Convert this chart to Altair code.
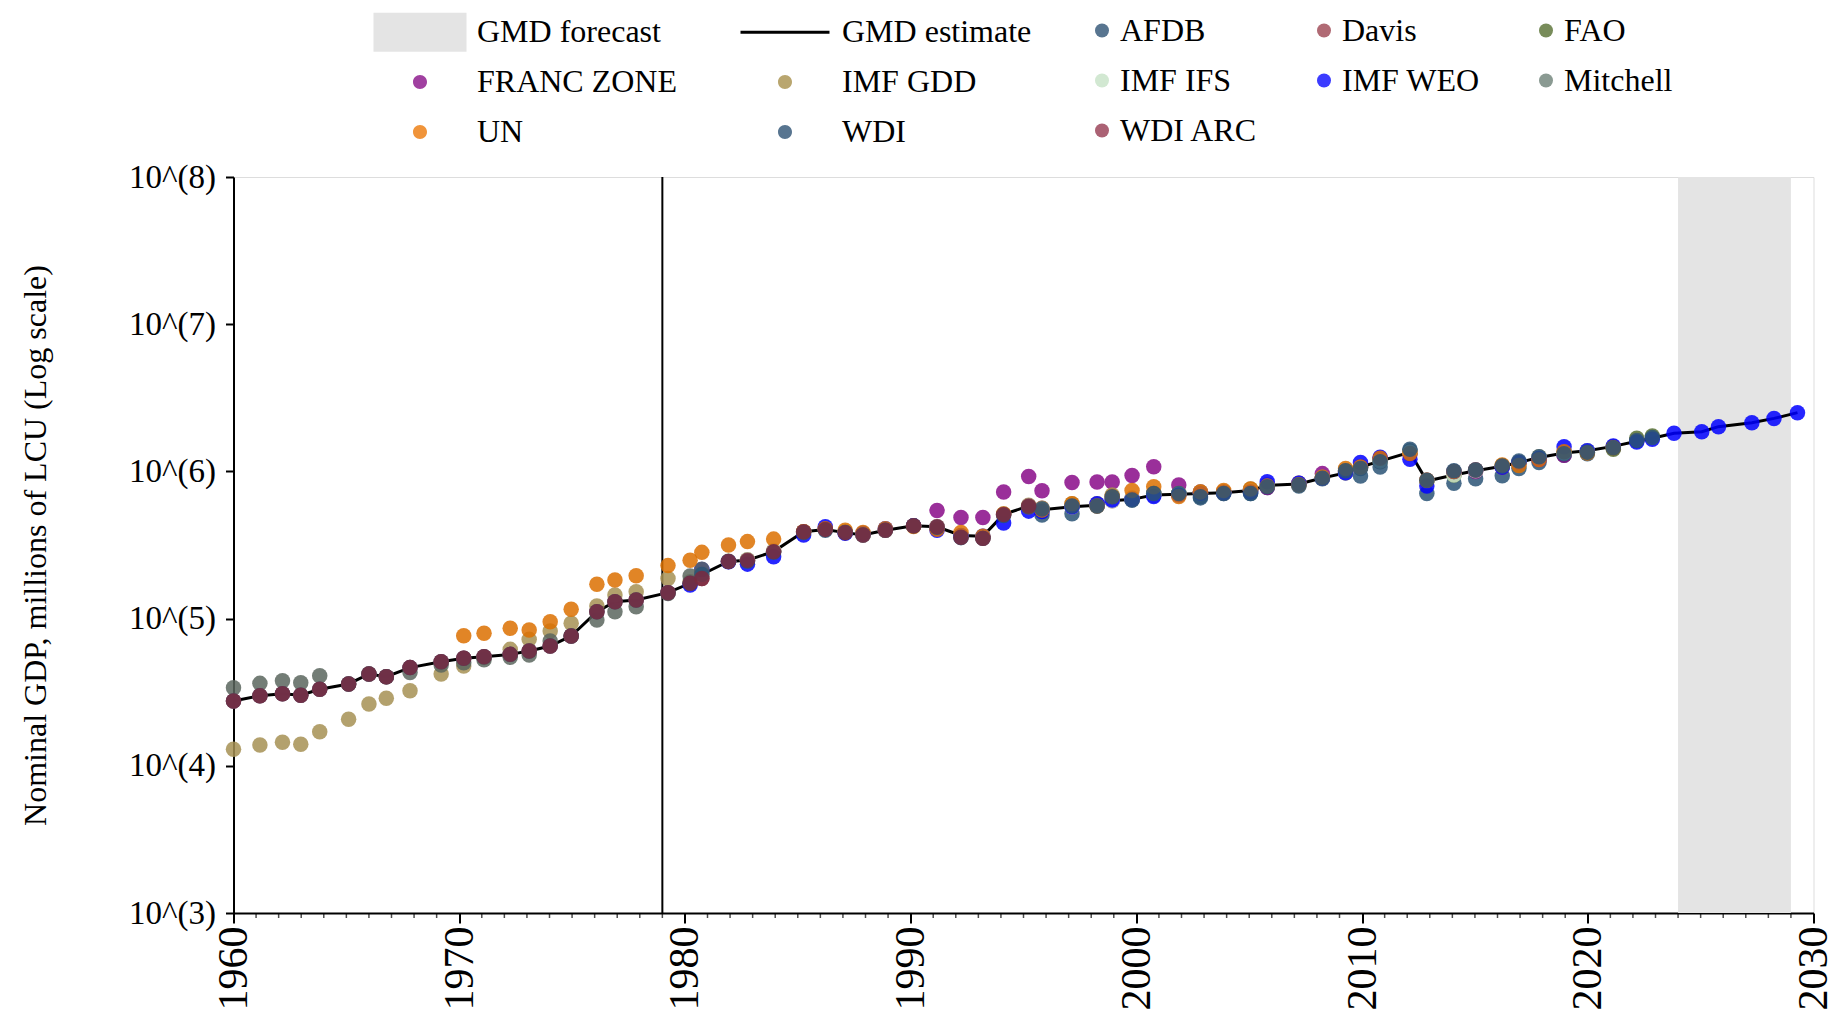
import math
import altair as alt
import pandas as pd

# ---------------- data (log10 of nominal GDP, millions of LCU) ----------------
years = list(range(1960, 2030))
# horizontal position of each year's markers
year_pos = [
    1960.00, 1961.17, 1962.17, 1962.98, 1963.82, 1965.10, 1966.00, 1966.77, 1967.82, 1969.20,
    1970.20, 1971.10, 1972.26, 1973.10, 1974.03, 1974.96, 1976.10, 1976.90, 1977.84, 1979.25,
    1980.23, 1980.75, 1981.93, 1982.77, 1983.93, 1985.26, 1986.22, 1987.10, 1987.89, 1988.88,
    1990.13, 1991.17, 1992.23, 1993.20, 1994.12, 1995.23, 1995.82, 1997.15, 1998.26, 1998.93,
    1999.81, 2000.77, 2001.88, 2002.84, 2003.87, 2005.06, 2005.80, 2007.20, 2008.24, 2009.27,
    2009.93, 2010.80, 2012.12, 2012.87, 2014.07, 2015.03, 2016.21, 2016.95, 2017.84, 2018.95,
    2019.98, 2021.13, 2022.17, 2022.86, 2023.82, 2025.05, 2025.79, 2027.27, 2028.25, 2029.29,
]
gmd_estimate = [
    4.44, 4.476, 4.49, 4.479, 4.52, 4.556, 4.624, 4.605, 4.667, 4.707,
    4.73, 4.741, 4.757, 4.78, 4.814, 4.882, 5.047, 5.115, 5.126, 5.176,
    5.24, 5.30, 5.388, 5.397, 5.455, 5.59, 5.606, 5.584, 5.568, 5.60,
    5.631, 5.624, 5.565, 5.56, 5.708, 5.765, 5.74, 5.76, 5.77, 5.80,
    5.81, 5.84, 5.845, 5.85, 5.855, 5.87, 5.905, 5.915, 5.955, 5.99,
    6.03, 6.07, 6.13, 5.935, 5.975, 6.005, 6.035, 6.06, 6.095, 6.125,
    6.14, 6.17, 6.205, 6.225, 6.259, 6.27, 6.304, 6.33, 6.36, 6.399,
]

afdb_start = 1995
afdb = [5.76, 5.704, 5.712, 5.765, 5.82, 5.806, 5.85, 5.85, 5.82, 5.85,
        5.85, 5.89, 5.90, 5.95, 6.005, 5.969, 6.03, 6.14, 5.85, 5.92,
        5.95, 5.97, 6.02, 6.06, 6.11, 6.12, 6.16, 6.21]

davis_start = 1960
davis = [4.44, 4.476, 4.49, 4.479, 4.52, 4.556, 4.624, 4.605, 4.667, 4.707,
         4.73, 4.741, 4.757, 4.78, 4.814, 4.882, 5.047, 5.115, 5.126, 5.176,
         5.24, 5.273, 5.388, 5.397, 5.455, 5.59, 5.606, 5.584, 5.568, 5.60,
         5.631, 5.624, 5.552, 5.545, 5.708, 5.765, 5.75, 5.76, 5.77, 5.80,
         5.81, 5.84, 5.845, 5.85, 5.855, 5.87, 5.905, 5.915, 5.955, 5.99,
         6.03, 6.07, 6.125]

fao_start = 2000
fao = [5.81, 5.84, 5.845, 5.85, 5.855, 5.87, 5.905, 5.915, 5.955, 5.99,
       6.03, 6.07, 6.13, 5.935, 5.975, 6.005, 6.035, 6.06, 6.095, 6.125,
       6.13, 6.15, 6.225, 6.24]

franc_zone_start = 1991
franc_zone = [5.735, 5.687, 5.687, 5.86, 5.965, 5.868, 5.925, 5.928, 5.928, 5.972,
              6.032, 5.908, 5.86, 5.86, 5.87, 5.89, 5.92, 5.985, 6.0, 6.03,
              6.09, 6.12, 5.94, 5.985, 6.0, 6.03, 6.06, 6.08, 6.11]

imf_gdd_start = 1960
imf_gdd = [4.112, 4.141, 4.16, 4.146, 4.232, 4.316, 4.42, 4.459, 4.51, 4.624,
           4.678, 4.735, 4.791, 4.859, 4.916, 4.968, 5.086, 5.16, 5.183, 5.273,
           5.25, 5.31, 5.39, 5.40, 5.46, 5.59, 5.61, 5.59, 5.57, 5.60,
           5.63, 5.62, 5.56, 5.55, 5.71, 5.77, 5.75, 5.78, 5.78, 5.84,
           5.82, 5.85, 5.85, 5.86, 5.86, 5.88, 5.91, 5.92, 5.96, 6.0,
           6.03, 6.08, 6.13, 5.94, 5.98, 6.01, 6.04, 6.06, 6.10, 6.13,
           6.14, 6.17, 6.21]

imf_ifs_start = 1980
imf_ifs = [5.24, 5.30, 5.39, 5.40, 5.46, 5.59, 5.61, 5.585, 5.57, 5.60,
           5.63, 5.625, 5.565, 5.56, 5.71, 5.765, 5.74, 5.76, 5.77, 5.80,
           5.81, 5.84, 5.845, 5.85, 5.855, 5.87, 5.905, 5.915, 5.955, 5.99,
           6.03, 6.07, 6.13, 5.935, 5.975, 6.005, 6.035, 6.06, 6.095, 6.125,
           6.14]

imf_weo_start = 1980
imf_weo = [5.228, 5.334, 5.386, 5.37, 5.42, 5.568, 5.624, 5.58, 5.58, 5.61,
           5.63, 5.60, 5.565, 5.56, 5.65, 5.73, 5.727, 5.76, 5.78, 5.806,
           5.81, 5.83, 5.84, 5.85, 5.855, 5.86, 5.93, 5.92, 5.955, 5.99,
           6.06, 6.096, 6.082, 5.90, 6.0, 6.01, 6.03, 6.06, 6.09, 6.168,
           6.14, 6.173, 6.2, 6.218, 6.259, 6.27, 6.304, 6.33, 6.36, 6.399]

mitchell_start = 1960
mitchell = [4.53, 4.56, 4.578, 4.564, 4.612, 4.556, 4.624, 4.605, 4.633, 4.685,
            4.70, 4.72, 4.737, 4.753, 4.848, 4.882, 4.99, 5.047, 5.08, 5.17,
            5.29, 5.336]

un_start = 1970
un = [4.884, 4.90, 4.934, 4.922, 4.979, 5.063, 5.233, 5.262, 5.291, 5.36,
      5.397, 5.45, 5.50, 5.523, 5.54, 5.59, 5.61, 5.60, 5.585, 5.61,
      5.625, 5.607, 5.585, 5.56, 5.71, 5.76, 5.738, 5.78, 5.765, 5.83,
      5.87, 5.896, 5.83, 5.86, 5.87, 5.88, 5.90, 5.91, 5.96, 6.02,
      6.03, 6.09, 6.122, 5.94, 6.0, 6.01, 6.044, 6.04, 6.08, 6.134,
      6.125, 6.16]

wdi_start = 1960
wdi = [4.44, 4.476, 4.49, 4.479, 4.52, 4.556, 4.624, 4.605, 4.667, 4.707,
       4.73, 4.741, 4.757, 4.78, 4.814, 4.882, 5.047, 5.115, 5.126, 5.176,
       5.24, 5.30, 5.388, 5.39, 5.45, 5.585, 5.60, 5.585, 5.568, 5.60,
       5.63, 5.62, 5.55, 5.545, 5.70, 5.76, 5.745, 5.765, 5.765, 5.828,
       5.806, 5.85, 5.85, 5.828, 5.85, 5.85, 5.896, 5.907, 5.953, 6.005,
       6.02, 6.066, 6.15, 5.94, 6.005, 6.01, 6.037, 6.07, 6.10, 6.12,
       6.13, 6.161, 6.21, 6.23]

wdi_arc_start = 1960
wdi_arc = [4.44, 4.476, 4.49, 4.479, 4.52, 4.556, 4.624, 4.605, 4.667, 4.707,
           4.73, 4.741, 4.757, 4.78, 4.814, 4.882, 5.047, 5.115, 5.126, 5.176,
           5.24, 5.273, 5.388, 5.397, 5.455, 5.59, 5.606, 5.584, 5.568, 5.60,
           5.631, 5.624, 5.552, 5.545, 5.708, 5.765]

forecast_span = [2024, 2029]
event_years = [1979]
x_ticks = [1960, 1970, 1980, 1990, 2000, 2010, 2020, 2030]
minor_tick_years = [y for y in range(1961, 2030) if y % 10 != 0]
y_ticks = [3, 4, 5, 6, 7, 8]

source_names = ["AFDB", "Davis", "FAO", "FRANC ZONE", "IMF GDD", "IMF IFS",
                "IMF WEO", "Mitchell", "UN", "WDI", "WDI ARC"]
source_colors = ["#2a5476", "#a03a50", "#566f31", "#880b88", "#a69054", "#c6e3c6",
                 "#0000ff", "#5a665e", "#dc7000", "#2a5476", "#7a2a40"]

legend_a_names = ["GMD forecast", "GMD estimate", "FRANC ZONE", "IMF GDD", "UN", "WDI"]
legend_a_colors = ["#e4e4e4", "#000000", "#a040a0", "#b9a66f", "#f0943a", "#587590"]
legend_b_names = ["AFDB", "Davis", "FAO", "IMF IFS", "IMF WEO", "Mitchell", "WDI ARC"]
legend_b_colors = ["#587590", "#b06a74", "#788c5a", "#d2e8d2", "#3c3cff", "#8a9a92", "#ab6274"]

# ---------------- tables ----------------
series_list = [
    ("AFDB", afdb_start, afdb), ("Davis", davis_start, davis), ("FAO", fao_start, fao),
    ("FRANC ZONE", franc_zone_start, franc_zone), ("IMF GDD", imf_gdd_start, imf_gdd),
    ("IMF IFS", imf_ifs_start, imf_ifs), ("IMF WEO", imf_weo_start, imf_weo),
    ("Mitchell", mitchell_start, mitchell), ("UN", un_start, un),
    ("WDI", wdi_start, wdi), ("WDI ARC", wdi_arc_start, wdi_arc),
]
rows = []
for name, start, vals in series_list:
    for i, v in enumerate(vals):
        yr = start + i
        rows.append({"source": name, "year": yr, "pos": year_pos[yr - 1960], "gdp": v})
points_df = pd.DataFrame(rows)
line_df = pd.DataFrame({"year": years, "pos": year_pos, "gdp": gmd_estimate})
forecast_df = pd.DataFrame({"start": [forecast_span[0]], "end": [forecast_span[1]]})
event_df = pd.DataFrame({"year": event_years})
minor_df = pd.DataFrame({"year": minor_tick_years})

# ---------------- styling ----------------
FONT = "Liberation Serif"
W, H = 1580, 736

x_scale = alt.Scale(domain=[1960, 2030], nice=False, zero=False)
y_scale = alt.Scale(domain=[3, 8], nice=False, zero=False)
x_axis = alt.Axis(values=x_ticks, labelAngle=270, labelFont=FONT, labelFontSize=42,
                  labelColor="black", labelPadding=3, tickSize=10, tickWidth=2,
                  tickColor="black", domainColor="black", domainWidth=2, grid=False,
                  title=None, labelFlush=False, labelOverlap=False, format="d")
y_axis = alt.Axis(values=y_ticks, labelExpr="'10^(' + datum.value + ')'", labelFont=FONT,
                  labelFontSize=33, labelColor="black", labelPadding=10, tickSize=8,
                  tickWidth=2, tickColor="black", domainColor="black", domainWidth=2,
                  grid=False, title="Nominal GDP, millions of LCU (Log scale)",
                  titleFont=FONT, titleFontSize=32, titleFontWeight="normal",
                  titleColor="black", titleX=-188, titleY=368, titleBaseline="alphabetic",
                  titleAngle=270)

X = lambda f: alt.X(f, scale=x_scale, axis=x_axis)
Y = lambda f: alt.Y(f, scale=y_scale, axis=y_axis)

forecast = alt.Chart(forecast_df).mark_rect(color="#e4e4e4").encode(
    x=X("start:Q"), x2="end:Q", y=alt.datum(y_ticks[0]), y2=alt.datum(y_ticks[-1]))

event = alt.Chart(event_df).mark_rule(color="black", strokeWidth=2).encode(x=X("year:Q"))

minor = alt.Chart(minor_df).mark_tick(orient="vertical", size=5, thickness=1.5,
                                      yOffset=2.5, color="black").encode(
    x=X("year:Q"), y=alt.datum(y_ticks[0]))

line = alt.Chart(line_df).mark_line(color="black", strokeWidth=3).encode(
    x=X("pos:Q"), y=Y("gdp:Q"))

pts = alt.Chart(points_df).mark_circle(size=240, opacity=0.85).encode(
    x=X("pos:Q"), y=Y("gdp:Q"),
    color=alt.Color("source:N", scale=alt.Scale(domain=source_names, range=source_colors),
                    legend=None))

# legend symbol shapes (unit paths scaled by sqrt(size)/2)
SYM = 196
r = math.sqrt(SYM) / 2
hw, hh = 46.5 / r, 19.5 / r          # grey forecast box
lw, lt = 44.5 / r, 1.6 / r           # estimate line
pad_pts = f" M{-hw:.3f},{-hh:.3f}L{-hw:.3f},{-hh:.3f}Z M{hw:.3f},{hh:.3f}L{hw:.3f},{hh:.3f}Z"
r_rect = f"M{-hw:.3f},{-hh:.3f}H{hw:.3f}V{hh:.3f}H{-hw:.3f}Z"
r_line = f"M{-lw:.3f},{-lt:.3f}H{lw:.3f}V{lt:.3f}H{-lw:.3f}Z" + pad_pts
r_circ = "M1,0A1,1,0,1,1,-1,0A1,1,0,1,1,1,0Z" + pad_pts
legend_a_shapes = [r_rect, r_line, r_circ, r_circ, r_circ, r_circ]

leg_a = alt.Legend(title=None, orient="none", direction="horizontal", legendX=170.5,
                   legendY=-161, columns=2,
                   labelFont=FONT, labelFontSize=32, labelColor="black", labelLimit=500,
                   symbolSize=SYM, symbolOpacity=1, symbolStrokeWidth=0, labelOffset=41,
                   columnPadding=60, rowPadding=10, padding=0)
leg_b = alt.Legend(title=None, orient="none", direction="horizontal", legendX=852.5,
                   legendY=-162.5, columns=3,
                   labelFont=FONT, labelFontSize=32, labelColor="black", labelLimit=500,
                   symbolSize=SYM, symbolOpacity=1, symbolStrokeWidth=0, labelOffset=2,
                   columnPadding=50, rowPadding=18, padding=0, symbolType="circle")

legA_df = pd.DataFrame({"srcA": legend_a_names})
legB_df = pd.DataFrame({"srcB": legend_b_names})

legA = alt.Chart(legA_df).mark_point(filled=True, opacity=1).encode(
    color=alt.Color("srcA:N", scale=alt.Scale(domain=legend_a_names, range=legend_a_colors),
                    legend=leg_a),
    shape=alt.Shape("srcA:N", scale=alt.Scale(domain=legend_a_names, range=legend_a_shapes),
                    legend=leg_a),
).transform_filter("false")

legB = alt.Chart(legB_df).mark_point(filled=True, opacity=1).encode(
    color=alt.Color("srcB:N", scale=alt.Scale(domain=legend_b_names, range=legend_b_colors),
                    legend=leg_b),
).transform_filter("false")

chart = alt.layer(forecast, event, minor, line, pts, legA, legB).resolve_scale(
    color="independent", shape="independent"
).properties(
    width=W, height=H,
    autosize=alt.AutoSizeParams(type="none"),
    padding={"left": 225.5, "top": 169, "right": 18, "bottom": 98},
).configure_view(stroke="transparent").configure(font=FONT)

chart.save("out.html", embed_options={"renderer": "svg", "actions": False})
